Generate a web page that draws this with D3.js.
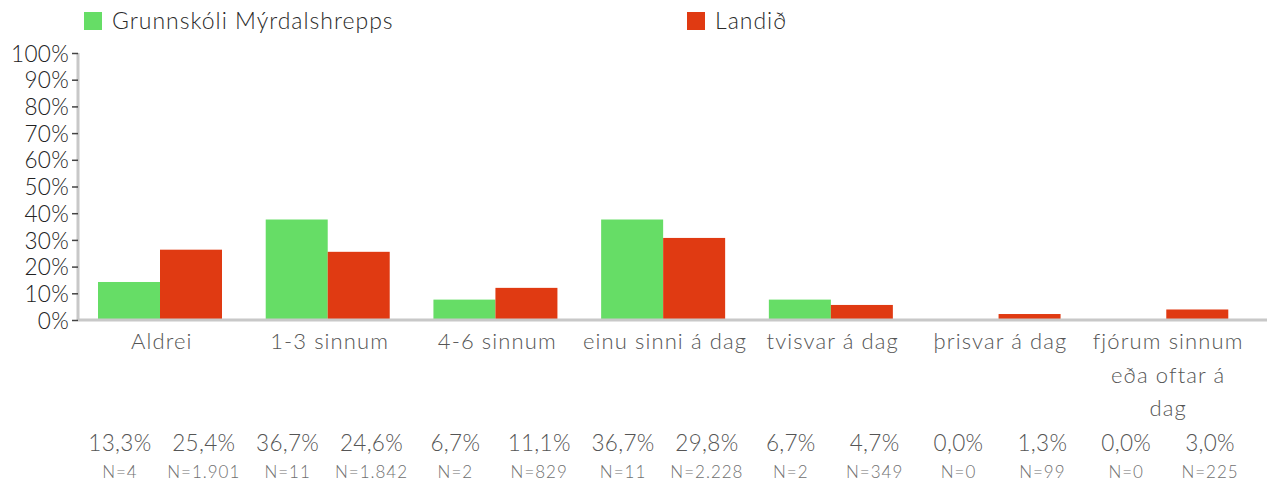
<!DOCTYPE html>
<html>
<head>
<meta charset="utf-8">
<script src="https://cdn.jsdelivr.net/npm/d3@7"></script>
<style>
  body { margin: 0; background: #fff; }
  text { font-family: Lato, "Open Sans", sans-serif; font-weight: 300; }
</style>
</head>
<body>
<div id="chart"></div>
<script>
var w = 1276;
var h = 484;

// data
const categories = ["Aldrei", "1-3 sinnum", "4-6 sinnum", "einu sinni á dag", "tvisvar á dag", "þrisvar á dag", "fjórum sinnum eða oftar á dag"];
const categoryLines = [["Aldrei"], ["1-3 sinnum"], ["4-6 sinnum"], ["einu sinni á dag"], ["tvisvar á dag"], ["þrisvar á dag"], ["fjórum sinnum", "eða oftar á", "dag"]];
const seriesNames = ["Grunnskóli Mýrdalshrepps", "Landið"];
const schoolValues = [13.3, 36.7, 6.7, 36.7, 6.7, 0.0, 0.0];
const countryValues = [25.4, 24.6, 11.1, 29.8, 4.7, 1.3, 3.0];
const schoolN = ["4", "11", "2", "11", "2", "0", "0"];
const countryN = ["1.901", "1.842", "829", "2.228", "349", "99", "225"];
const yTicks = [0, 10, 20, 30, 40, 50, 60, 70, 80, 90, 100];
const colours = ["#66dd66", "#e03a12"];

const svg = d3.select("#chart").append("svg").attr("width", w).attr("height", h);

const y = d3.scaleLinear().domain([0, 100]).range([320, 53]);
const x = d3.scaleBand().domain(categories).range([78, 1252]);
const xBar = d3.scaleBand().domain(seriesNames).range([20, 144]);
const xLab = d3.scaleBand().domain(seriesNames).range([0, x.bandwidth()]);

const fmt = v => v.toFixed(1).replace(".", ",") + "%";
const lift = v => v > 0 ? 2.5 : 0;

// bars
seriesNames.forEach((s, si) => {
    const vals = si === 0 ? schoolValues : countryValues;
    svg.append("g").selectAll("rect")
        .data(categories.map((c, i) => ({ c: c, v: vals[i] })))
        .enter()
        .append("rect")
        .attr("x", d => x(d.c) + xBar(s))
        .attr("width", xBar.bandwidth())
        .attr("y", d => y(d.v) - lift(d.v))
        .attr("height", d => y(0) - y(d.v) + lift(d.v))
        .attr("fill", colours[si]);
});

// y axis
const yAxis = svg.append("g")
    .attr("transform", "translate(78,0)")
    .call(d3.axisLeft(y).tickValues(yTicks).tickSize(6).tickFormat(d => d + "%"));
yAxis.select(".domain").attr("stroke", "#c8c8c8").attr("stroke-width", 3).attr("d", "M0," + y(100) + "V" + y(0));
yAxis.selectAll(".tick line").attr("stroke", "#444").attr("stroke-width", 1.5);
yAxis.selectAll(".tick text")
    .attr("x", -9)
    .attr("dy", "0.36em")
    .attr("fill", "#222")
    .style("font-size", "22.5px")
    .style("letter-spacing", "0.3px")
    .style("font-family", "Lato, sans-serif")
    .style("font-weight", "300");

// baseline
svg.append("line")
    .attr("x1", 78).attr("x2", 1267)
    .attr("y1", y(0)).attr("y2", y(0))
    .attr("stroke", "#c8c8c8").attr("stroke-width", 3);

// category labels
const catLabels = svg.append("g").selectAll("text")
    .data(categories)
    .enter()
    .append("text")
    .attr("text-anchor", "middle")
    .attr("fill", "#555")
    .style("font-size", "22px")
    .style("letter-spacing", "1.1px");
catLabels.each(function (d, i) {
    const t = d3.select(this);
    categoryLines[i].forEach((line, li) => {
        t.append("tspan")
            .attr("x", x(d) + x.bandwidth() / 2)
            .attr("y", 349 + li * 33.5)
            .text(line);
    });
});

// percent and N rows
seriesNames.forEach((s, si) => {
    const vals = si === 0 ? schoolValues : countryValues;
    const ns = si === 0 ? schoolN : countryN;
    const g = svg.append("g");
    g.selectAll("text.pct")
        .data(categories)
        .enter()
        .append("text")
        .attr("class", "pct")
        .attr("x", d => x(d) + xLab(s) + xLab.bandwidth() / 2)
        .attr("y", 451)
        .attr("text-anchor", "middle")
        .attr("fill", "#555")
        .style("font-size", "22.5px")
        .style("letter-spacing", "0.3px")
        .text((d, i) => fmt(vals[i]));
    g.selectAll("text.n")
        .data(categories)
        .enter()
        .append("text")
        .attr("class", "n")
        .attr("x", d => x(d) + xLab(s) + xLab.bandwidth() / 2)
        .attr("y", 478)
        .attr("text-anchor", "middle")
        .attr("fill", "#707070")
        .style("font-size", "17px")
        .style("letter-spacing", "1px")
        .text((d, i) => "N=" + ns[i]);
});

// legend
const legendX = [84, 687];
const legend = svg.append("g").selectAll("g")
    .data(seriesNames)
    .enter()
    .append("g")
    .attr("transform", (d, i) => "translate(" + legendX[i] + ",12)");
legend.append("rect")
    .attr("width", 18).attr("height", 18)
    .attr("fill", (d, i) => colours[i]);
legend.append("text")
    .attr("x", 28).attr("y", 17)
    .attr("fill", "#2a2a2a")
    .style("font-size", "23px")
    .style("letter-spacing", "1px")
    .text(d => d);
</script>
</body>
</html>
